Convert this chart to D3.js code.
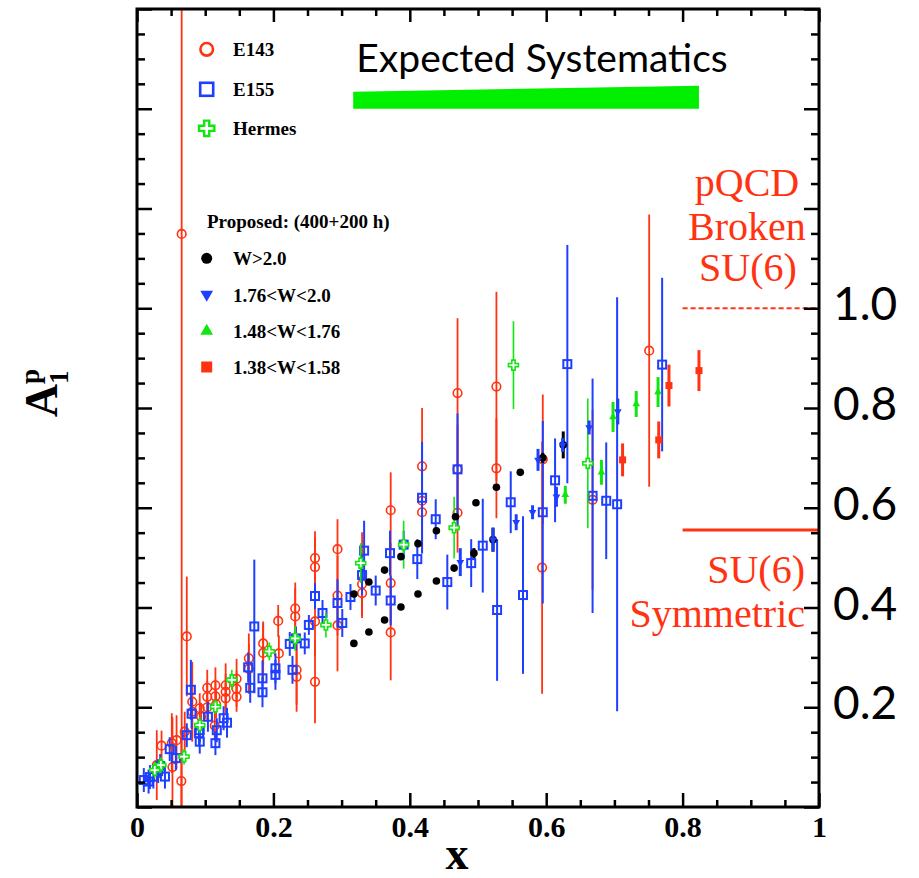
<!DOCTYPE html>
<html>
<head>
<meta charset="utf-8">
<script src="https://cdn.jsdelivr.net/npm/d3@7"></script>
<style>
    body { margin: 0; background: #fff; }
    #chart { width: 919px; height: 878px; }
</style>
</head>
<body>
<div id="chart"></div>
<script>
// [x, A1p, error]
const e143 = [
    [0.751,0.915,0.273],[0.668,0.616,0.180],[0.595,0.697,0.130],[0.594,0.480,0.253],
    [0.527,0.843,0.190],[0.527,0.679,0.100],[0.470,0.830,0.150],[0.470,0.677,0.090],
    [0.470,0.590,0.080],[0.418,0.683,0.117],[0.418,0.614,0.080],[0.418,0.591,0.080],
    [0.372,0.595,0.076],[0.372,0.449,0.080],[0.372,0.350,0.096],[0.330,0.467,0.084],
    [0.330,0.447,0.060],[0.330,0.429,0.050],[0.294,0.517,0.060],[0.294,0.424,0.080],
    [0.294,0.364,0.092],[0.261,0.499,0.054],[0.261,0.481,0.060],[0.261,0.372,0.070],
    [0.261,0.251,0.083],[0.232,0.398,0.052],[0.232,0.382,0.056],[0.234,0.275,0.070],
    [0.234,0.261,0.070],[0.207,0.373,0.032],[0.208,0.308,0.036],[0.185,0.328,0.044],
    [0.185,0.309,0.060],[0.164,0.298,0.050],[0.164,0.277,0.050],[0.146,0.257,0.040],
    [0.146,0.237,0.036],[0.146,0.221,0.030],[0.130,0.244,0.044],[0.130,0.231,0.036],
    [0.130,0.218,0.030],[0.115,0.244,0.036],[0.115,0.222,0.032],[0.116,0.206,0.028],
    [0.103,0.239,0.036],[0.103,0.221,0.032],[0.103,0.200,0.028],[0.092,0.198,0.030],
    [0.094,0.181,0.028],[0.081,0.211,0.080],[0.081,0.191,0.050],[0.073,0.342,0.120],
    [0.070,0.151,0.040],[0.058,0.134,0.050],[0.051,0.128,0.060],[0.052,0.080,0.100],
    [0.036,0.123,0.030],[0.065,0.052,0.100],[0.0655,1.149,1.200],[0.114,0.163,0.030],
    [0.029,0.084,0.070]
];

const e155 = [
    [0.770,0.887,0.174],[0.704,0.607,0.415],[0.688,0.614,0.117],[0.668,0.624,0.235],
    [0.613,0.655,0.084],[0.631,0.888,0.239],[0.595,0.591,0.183],[0.548,0.611,0.062],
    [0.566,0.425,0.158],[0.528,0.395,0.142],[0.507,0.524,0.094],[0.490,0.489,0.048],
    [0.455,0.451,0.055],[0.470,0.677,0.112],[0.438,0.577,0.040],[0.411,0.497,0.040],
    [0.418,0.620,0.112],[0.391,0.526,0.028],[0.371,0.509,0.045],[0.372,0.414,0.050],
    [0.350,0.434,0.030],[0.333,0.514,0.060],[0.330,0.465,0.040],[0.313,0.421,0.026],
    [0.294,0.409,0.048],[0.301,0.369,0.028],[0.272,0.389,0.026],[0.261,0.423,0.026],
    [0.252,0.365,0.020],[0.246,0.328,0.022],[0.224,0.327,0.024],[0.233,0.338,0.024],
    [0.228,0.275,0.028],[0.172,0.362,0.134],[0.184,0.258,0.036],[0.184,0.230,0.030],
    [0.203,0.278,0.030],[0.203,0.265,0.030],[0.166,0.239,0.030],[0.163,0.280,0.030],
    [0.079,0.235,0.060],[0.080,0.187,0.030],[0.091,0.148,0.024],[0.104,0.181,0.030],
    [0.115,0.128,0.024],[0.117,0.154,0.024],[0.132,0.169,0.030],[0.127,0.178,0.024],
    [0.092,0.131,0.024],[0.073,0.144,0.024],[0.048,0.116,0.024],[0.041,0.061,0.024],
    [0.024,0.061,0.024],[0.017,0.051,0.024],[0.034,0.082,0.024],[0.019,0.060,0.024],
    [0.010,0.054,0.024],[0.057,0.098,0.024],[0.031,0.072,0.024],[0.092,0.154,0.024]
];

const hermes = [
    [0.661,0.689,0.130],[0.552,0.886,0.088],[0.465,0.560,0.062],[0.391,0.526,0.048],
    [0.328,0.489,0.040],[0.277,0.365,0.025],[0.232,0.338,0.025],[0.194,0.312,0.018],
    [0.139,0.255,0.020],[0.115,0.201,0.014],[0.092,0.164,0.016],[0.069,0.101,0.016],
    [0.035,0.084,0.016],[0.026,0.074,0.016]
];

// proposed measurement, 400+200 h
const propW20 = [
    [0.318,0.328,0.004],[0.340,0.351,0.004],[0.363,0.375,0.004],[0.387,0.401,0.004],
    [0.412,0.427,0.004],[0.439,0.453,0.004],[0.465,0.479,0.005],[0.494,0.509,0.010],
    [0.522,0.536,0.024],
    [0.318,0.427,0.004],[0.340,0.451,0.004],[0.363,0.475,0.004],[0.387,0.502,0.004],
    [0.412,0.528,0.004],[0.439,0.554,0.004],[0.467,0.582,0.004],[0.497,0.610,0.005],
    [0.527,0.641,0.005],[0.562,0.671,0.005],[0.595,0.700,0.010],[0.625,0.726,0.027]
];
const propW176 = [
    [0.474,0.491,0.028],[0.522,0.536,0.024],[0.556,0.571,0.016],[0.580,0.591,0.014],
    [0.588,0.696,0.022],[0.615,0.622,0.020],[0.624,0.726,0.014],[0.663,0.761,0.014],
    [0.705,0.793,0.026]
];
const propW148 = [[0.628,0.626,0.018],[0.681,0.671,0.025],[0.698,0.782,0.030],[0.732,0.808,0.026],[0.764,0.832,0.030]];
const propW138 = [[0.712,0.696,0.033],[0.765,0.736,0.037],[0.780,0.845,0.042],[0.824,0.875,0.041]];

// expected systematic band
const sysX = [0.317, 0.824];
const sysErr = [0.034, 0.046];

// model predictions
const pqcdValue = 1.0;
const su6Value = 5 / 9;
const modelXStart = 0.8;

const xTickLabels = [0, 0.2, 0.4, 0.6, 0.8, 1];
const yTickLabels = [0.2, 0.4, 0.6, 0.8, 1.0];
const expLabels = ["E143", "E155", "Hermes"];
const propLabels = ["W>2.0", "1.76<W<2.0", "1.48<W<1.76", "1.38<W<1.58"];

const RED = "#ff3311", BLUE = "#1f3fff", GREEN = "#11e611";
const SERIF = "'Liberation Serif', 'Times New Roman', serif";
const SANS = "Lato, 'Open Sans', sans-serif";

class A1pChart {
    constructor(_parentElement) {
        this.parentElement = _parentElement;
        this.initVis();
    }

    initVis() {
        let vis = this;
        vis.margin = { top: 9, right: 100, bottom: 71, left: 137 };
        vis.width = 919 - vis.margin.left - vis.margin.right;
        vis.height = 878 - vis.margin.top - vis.margin.bottom;

        vis.root = d3.select("#" + vis.parentElement).append("svg")
            .attr("width", 919)
            .attr("height", 878);
        vis.svg = vis.root.append("g")
            .attr("transform", `translate(${vis.margin.left}, ${vis.margin.top})`);

        vis.x = d3.scaleLinear().domain([0, 1]).range([0, vis.width]);
        vis.y = d3.scaleLinear().domain([0, 1.6]).range([vis.height, 0]);

        vis.svg.append("clipPath").attr("id", "plot-clip")
            .append("rect").attr("width", vis.width).attr("height", vis.height);
        vis.plot = vis.svg.append("g").attr("clip-path", "url(#plot-clip)");

        vis.drawModels();
        vis.drawData();
        vis.drawAxes();
        vis.drawLegend();
        vis.drawLabels();
    }

    drawAxes() {
        let vis = this;
        let isMajor = d => Math.abs(d * 5 - Math.round(d * 5)) < 1e-6;
        let minorX = d3.range(0, 1.0001, 0.05).filter(d => !isMajor(d));
        let majorX = d3.range(0, 1.0001, 0.2);
        let minorY = d3.range(0, 1.6001, 0.05).filter(d => !isMajor(d));
        let majorY = d3.range(0, 1.6001, 0.2);

        let tickAxis = (axis, vals, size, tr) => {
            let g = vis.svg.append("g").attr("transform", tr)
                .call(axis.tickValues(vals).tickSize(-size).tickSizeOuter(0).tickFormat(""));
            g.select(".domain").remove();
            g.selectAll("line").attr("stroke", "#000").attr("stroke-width", 2.5);
            return g;
        };

        tickAxis(d3.axisBottom(vis.x), minorX, 7, `translate(0,${vis.height})`);
        tickAxis(d3.axisBottom(vis.x), majorX, 14, `translate(0,${vis.height})`);
        tickAxis(d3.axisTop(vis.x), minorX, 7, "translate(0,0)");
        tickAxis(d3.axisTop(vis.x), majorX, 13, "translate(0,0)");
        tickAxis(d3.axisLeft(vis.y), minorY, 8, "translate(0,0)");
        tickAxis(d3.axisLeft(vis.y), majorY, 15, "translate(0,0)");
        tickAxis(d3.axisRight(vis.y), minorY, 8, `translate(${vis.width},0)`);
        tickAxis(d3.axisRight(vis.y), majorY, 15, `translate(${vis.width},0)`);

        // bottom labels
        let xl = vis.svg.append("g")
            .attr("transform", `translate(0,${vis.height})`)
            .call(d3.axisBottom(vis.x).tickValues(xTickLabels).tickSize(0).tickPadding(9)
                .tickFormat(d => String(d)));
        xl.select(".domain").remove();
        xl.selectAll("text")
            .attr("fill", "#000")
            .style("font-family", SERIF)
            .style("font-weight", "bold")
            .style("font-size", "30px");

        // right labels
        let yr = vis.svg.append("g")
            .attr("transform", `translate(${vis.width},0)`)
            .call(d3.axisRight(vis.y).tickValues(yTickLabels).tickSize(0).tickPadding(14)
                .tickFormat(d3.format(".1f")));
        yr.select(".domain").remove();
        yr.selectAll("text")
            .attr("fill", "#000")
            .attr("dy", "0.25em")
            .style("font-family", SANS)
            .style("font-size", "46px");

        // frame
        vis.svg.append("rect")
            .attr("width", vis.width)
            .attr("height", vis.height)
            .attr("fill", "none")
            .attr("stroke", "#000")
            .attr("stroke-width", 3);
    }

    drawModels() {
        let vis = this;
        vis.svg.append("line")
            .attr("x1", vis.x(modelXStart)).attr("x2", vis.x(1))
            .attr("y1", vis.y(pqcdValue)).attr("y2", vis.y(pqcdValue))
            .attr("stroke", RED).attr("stroke-width", 2.2)
            .attr("stroke-dasharray", "5,3");
        vis.svg.append("line")
            .attr("x1", vis.x(modelXStart)).attr("x2", vis.x(1))
            .attr("y1", vis.y(su6Value)).attr("y2", vis.y(su6Value))
            .attr("stroke", RED).attr("stroke-width", 3);

        // expected systematics band
        let band = sysX.map((d, i) => ({ x: d, e: sysErr[i] }));
        let base = 1.4;
        vis.svg.append("path")
            .datum(band)
            .attr("fill", "#00f000")
            .attr("d", d3.area().x(d => vis.x(d.x)).y0(vis.y(base)).y1(d => vis.y(base + d.e)));
    }

    errorBars(data, color, width) {
        let vis = this;
        vis.plot.append("g").selectAll("line")
            .data(data).enter().append("line")
            .attr("x1", d => vis.x(d[0])).attr("x2", d => vis.x(d[0]))
            .attr("y1", d => vis.y(d[1] - d[2])).attr("y2", d => vis.y(d[1] + d[2]))
            .attr("stroke", color).attr("stroke-width", width);
    }

    drawData() {
        let vis = this;

        // E143
        vis.errorBars(e143, RED, 1.8);
        vis.plot.append("g").selectAll("circle")
            .data(e143).enter().append("circle")
            .attr("cx", d => vis.x(d[0])).attr("cy", d => vis.y(d[1]))
            .attr("r", 4.3)
            .attr("fill", "none").attr("stroke", RED).attr("stroke-width", 1.6);

        // E155
        vis.errorBars(e155, BLUE, 2);
        vis.plot.append("g").selectAll("rect")
            .data(e155).enter().append("rect")
            .attr("x", d => vis.x(d[0]) - 4).attr("y", d => vis.y(d[1]) - 4)
            .attr("width", 8).attr("height", 8)
            .attr("fill", "none").attr("stroke", BLUE).attr("stroke-width", 2);

        // Hermes
        vis.errorBars(hermes, GREEN, 1.6);
        let cross = d3.symbol().type(d3.symbolCross).size(55);
        vis.plot.append("g").selectAll("path")
            .data(hermes).enter().append("path")
            .attr("d", cross)
            .attr("transform", d => `translate(${vis.x(d[0])},${vis.y(d[1])})`)
            .attr("fill", "#fff").attr("stroke", GREEN).attr("stroke-width", 1.6);

        // proposed
        vis.errorBars(propW20, "#000", 3);
        vis.plot.append("g").selectAll("circle")
            .data(propW20).enter().append("circle")
            .attr("cx", d => vis.x(d[0])).attr("cy", d => vis.y(d[1]))
            .attr("r", 3.8).attr("fill", "#000");

        let tri = d3.symbol().type(d3.symbolTriangle).size(26);
        vis.errorBars(propW176, BLUE, 3);
        vis.plot.append("g").selectAll("path")
            .data(propW176).enter().append("path")
            .attr("d", tri)
            .attr("transform", d => `translate(${vis.x(d[0])},${vis.y(d[1])}) rotate(180)`)
            .attr("fill", BLUE);

        vis.errorBars(propW148, GREEN, 3);
        vis.plot.append("g").selectAll("path")
            .data(propW148).enter().append("path")
            .attr("d", tri)
            .attr("transform", d => `translate(${vis.x(d[0])},${vis.y(d[1])})`)
            .attr("fill", GREEN);

        vis.errorBars(propW138, RED, 3);
        vis.plot.append("g").selectAll("rect")
            .data(propW138).enter().append("rect")
            .attr("x", d => vis.x(d[0]) - 3.5).attr("y", d => vis.y(d[1]) - 3.5)
            .attr("width", 7).attr("height", 7)
            .attr("fill", RED);
    }

    drawLegend() {
        let vis = this;
        let lg = vis.root.append("g").attr("class", "legend");
        let mx = 206.7, tx = 233;
        let expY = [49.3, 89.3, 128.3];
        let propY = [258.3, 294.5, 331, 367];

        lg.append("circle").attr("cx", mx).attr("cy", expY[0]).attr("r", 6.3)
            .attr("fill", "none").attr("stroke", RED).attr("stroke-width", 2.6);
        lg.append("rect").attr("x", mx - 6.5).attr("y", expY[1] - 6.5)
            .attr("width", 13).attr("height", 13)
            .attr("fill", "none").attr("stroke", BLUE).attr("stroke-width", 2.6);
        lg.append("path").attr("d", d3.symbol().type(d3.symbolCross).size(130))
            .attr("transform", `translate(${mx},${expY[2]})`)
            .attr("fill", "#fff").attr("stroke", GREEN).attr("stroke-width", 2.4);

        lg.append("circle").attr("cx", mx).attr("cy", propY[0]).attr("r", 5.5).attr("fill", "#000");
        lg.append("path").attr("d", d3.symbol().type(d3.symbolTriangle).size(70))
            .attr("transform", `translate(${mx},${propY[1]}) rotate(180)`).attr("fill", BLUE);
        lg.append("path").attr("d", d3.symbol().type(d3.symbolTriangle).size(70))
            .attr("transform", `translate(${mx},${propY[2]})`).attr("fill", GREEN);
        lg.append("rect").attr("x", mx - 5.5).attr("y", propY[3] - 5.5)
            .attr("width", 11).attr("height", 11).attr("fill", RED);

        let txt = (s, x, y) => lg.append("text").attr("x", x).attr("y", y).text(s)
            .style("font-family", SERIF).style("font-weight", "bold").style("font-size", "19px");
        expLabels.forEach((s, i) => txt(s, tx, expY[i] + 7));
        txt("Proposed: (400+200 h)", 207, 228);
        propLabels.forEach((s, i) => txt(s, tx, propY[i] + 7));
    }

    drawLabels() {
        let vis = this;
        let r = vis.root;

        r.append("text").attr("x", 542).attr("y", 72)
            .attr("text-anchor", "middle")
            .style("font-family", SANS).style("font-size", "39px")
            .text("Expected Systematics");

        let red = (s, x, y, anchor) => r.append("text").attr("x", x).attr("y", y)
            .attr("text-anchor", anchor).attr("fill", RED)
            .style("font-family", SERIF).style("font-size", "40px").text(s);
        red("pQCD", 747, 196, "middle");
        red("Broken", 747, 240, "middle");
        red("SU(6)", 748, 281, "middle");
        red("SU(6)", 805, 583, "end");
        red("Symmetric", 805, 627, "end");

        r.append("text").attr("x", 457).attr("y", 869)
            .attr("text-anchor", "middle")
            .style("font-family", SERIF).style("font-weight", "bold").style("font-size", "46px")
            .text("x");

        let yl = r.append("text")
            .attr("transform", "translate(57,393) rotate(-90)")
            .attr("text-anchor", "middle")
            .style("font-family", SERIF).style("font-weight", "bold").style("font-size", "46px");
        yl.append("tspan").text("A");
        yl.append("tspan").attr("dy", -18).style("font-size", "27px").text("p");
        yl.append("tspan").attr("dx", -15).attr("dy", 29).style("font-size", "27px").text("1");
    }
}

new A1pChart("chart");
</script>
</body>
</html>
